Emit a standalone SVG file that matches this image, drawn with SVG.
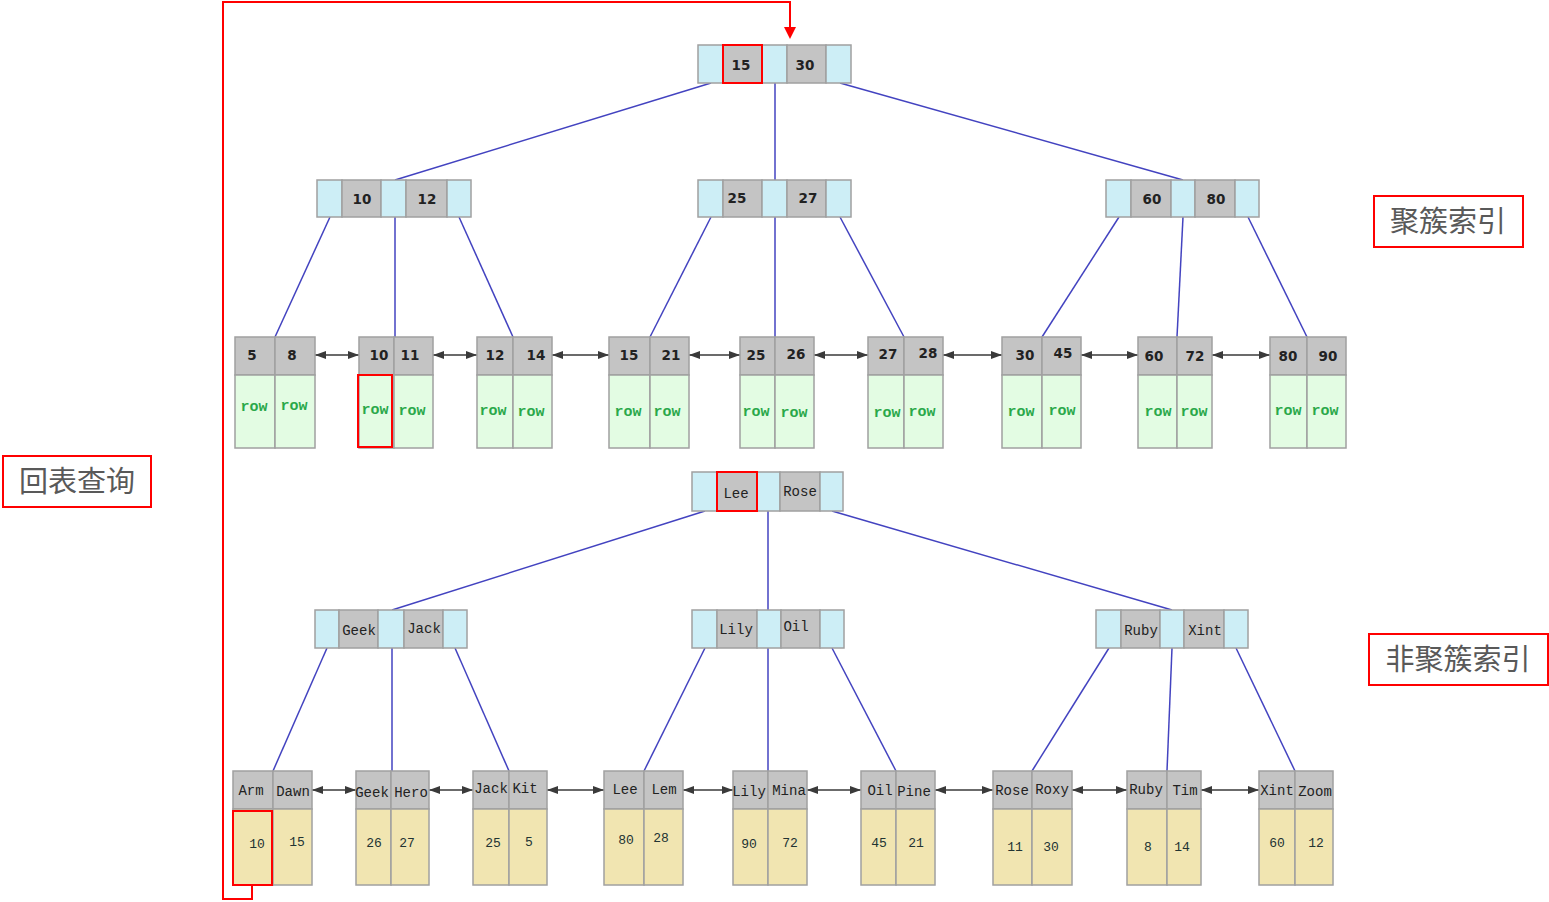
<svg xmlns="http://www.w3.org/2000/svg" width="1549" height="902" viewBox="0 0 1549 902">
<defs>
<marker id="ah" markerUnits="userSpaceOnUse" markerWidth="12" markerHeight="10" refX="11" refY="5" orient="auto-start-reverse"><path d="M0,1 L11,5 L0,9 z" fill="#3a3a3a"/></marker>
<style>
.b{fill:#cdeef6;stroke:#a0a0a0;stroke-width:1.5}
.g{fill:#c4c4c4;stroke:#a0a0a0;stroke-width:1.5}
.gr{fill:#e3fce3;stroke:#a0a0a0;stroke-width:1.5}
.tn{fill:#f1e5b1;stroke:#a0a0a0;stroke-width:1.5}
.k{font-family:"DejaVu Sans",Verdana,sans-serif;font-weight:bold;font-size:13.5px;fill:#222;text-anchor:middle}
.r{font-family:"Liberation Mono","Courier New",monospace;font-weight:bold;font-size:15px;fill:#2aa84a;text-anchor:middle}
.n{font-family:"Liberation Mono","Courier New",monospace;font-size:14px;fill:#222;text-anchor:middle}
.v{font-family:"Liberation Mono","Courier New",monospace;font-size:13px;fill:#233;text-anchor:middle}
.c{stroke:#4343c0;stroke-width:1.5;fill:none}
.a{stroke:#3a3a3a;stroke-width:1.5;marker-start:url(#ah);marker-end:url(#ah)}
.red{fill:none;stroke:#ff0000;stroke-width:2}
.lb{fill:#fff;stroke:#ff0000;stroke-width:2}
.lt{font-family:"Noto Sans CJK SC","Noto Sans",sans-serif;font-size:29px;fill:#595959;text-anchor:middle}
</style>
</defs>
<rect width="1549" height="902" fill="#fff"/>

<g id="connectors">
<line class="c" x1="711" y1="83" x2="395" y2="180"/>
<line class="c" x1="775" y1="83" x2="775" y2="180"/>
<line class="c" x1="840" y1="83" x2="1183" y2="180"/>
<line class="c" x1="330" y1="217" x2="275" y2="337"/>
<line class="c" x1="395" y1="217" x2="395" y2="337"/>
<line class="c" x1="459" y1="217" x2="513" y2="337"/>
<line class="c" x1="711" y1="217" x2="650" y2="337"/>
<line class="c" x1="775" y1="217" x2="775" y2="337"/>
<line class="c" x1="840" y1="217" x2="904" y2="337"/>
<line class="c" x1="1119" y1="217" x2="1042" y2="337"/>
<line class="c" x1="1183" y1="217" x2="1177" y2="337"/>
<line class="c" x1="1248" y1="217" x2="1307" y2="337"/>
<line class="c" x1="705" y1="511" x2="392" y2="610"/>
<line class="c" x1="768" y1="511" x2="768" y2="610"/>
<line class="c" x1="832" y1="511" x2="1172" y2="610"/>
<line class="c" x1="327" y1="648" x2="273" y2="771"/>
<line class="c" x1="392" y1="648" x2="392" y2="771"/>
<line class="c" x1="455" y1="648" x2="509" y2="771"/>
<line class="c" x1="705" y1="648" x2="644" y2="771"/>
<line class="c" x1="768" y1="648" x2="768" y2="771"/>
<line class="c" x1="832" y1="648" x2="896" y2="771"/>
<line class="c" x1="1109" y1="648" x2="1032" y2="771"/>
<line class="c" x1="1172" y1="648" x2="1167" y2="771"/>
<line class="c" x1="1236" y1="648" x2="1295" y2="771"/>
<line class="a" x1="315" y1="355" x2="359" y2="355"/>
<line class="a" x1="433" y1="355" x2="477" y2="355"/>
<line class="a" x1="552" y1="355" x2="609" y2="355"/>
<line class="a" x1="689" y1="355" x2="740" y2="355"/>
<line class="a" x1="814" y1="355" x2="868" y2="355"/>
<line class="a" x1="943" y1="355" x2="1002" y2="355"/>
<line class="a" x1="1081" y1="355" x2="1138" y2="355"/>
<line class="a" x1="1212" y1="355" x2="1270" y2="355"/>
<line class="a" x1="312" y1="790" x2="356" y2="790"/>
<line class="a" x1="429" y1="790" x2="473" y2="790"/>
<line class="a" x1="547" y1="790" x2="604" y2="790"/>
<line class="a" x1="683" y1="790" x2="733" y2="790"/>
<line class="a" x1="807" y1="790" x2="861" y2="790"/>
<line class="a" x1="935" y1="790" x2="993" y2="790"/>
<line class="a" x1="1072" y1="790" x2="1127" y2="790"/>
<line class="a" x1="1201" y1="790" x2="1259" y2="790"/>
<polyline class="red" points="252,885 252,899 223,899 223,2 790,2 790,29"/>
<path d="M784,27 L796,27 L790,39 z" fill="#ff0000"/>
</g>

<!-- clustered index -->
<g id="root-15-30">
<rect class="b" x="698" y="45" width="25" height="38"/>
<rect class="g" x="723" y="45" width="39" height="38"/>
<rect class="b" x="762" y="45" width="25" height="38"/>
<rect class="g" x="787" y="45" width="39" height="38"/>
<rect class="b" x="826" y="45" width="25" height="38"/>
<text class="k" x="741" y="70">15</text>
<text class="k" x="805" y="70">30</text>
<rect class="red" x="723" y="45" width="39" height="38"/>
</g>
<g id="node-10-12">
<rect class="b" x="317" y="180" width="25" height="37"/>
<rect class="g" x="342" y="180" width="39" height="37"/>
<rect class="b" x="381" y="180" width="25" height="37"/>
<rect class="g" x="406" y="180" width="41" height="37"/>
<rect class="b" x="447" y="180" width="24" height="37"/>
<text class="k" x="362" y="204">10</text>
<text class="k" x="427" y="204">12</text>
</g>
<g id="node-25-27">
<rect class="b" x="698" y="180" width="25" height="37"/>
<rect class="g" x="723" y="180" width="39" height="37"/>
<rect class="b" x="762" y="180" width="25" height="37"/>
<rect class="g" x="787" y="180" width="39" height="37"/>
<rect class="b" x="826" y="180" width="25" height="37"/>
<text class="k" x="737" y="203">25</text>
<text class="k" x="808" y="203">27</text>
</g>
<g id="node-60-80">
<rect class="b" x="1106" y="180" width="25" height="37"/>
<rect class="g" x="1131" y="180" width="40" height="37"/>
<rect class="b" x="1171" y="180" width="24" height="37"/>
<rect class="g" x="1195" y="180" width="40" height="37"/>
<rect class="b" x="1235" y="180" width="24" height="37"/>
<text class="k" x="1152" y="204">60</text>
<text class="k" x="1216" y="204">80</text>
</g>

<g id="leaf-5-8">
<rect class="g" x="235" y="337" width="40" height="38"/><rect class="g" x="275" y="337" width="40" height="38"/>
<rect class="gr" x="235" y="375" width="40" height="73"/><rect class="gr" x="275" y="375" width="40" height="73"/>
<text class="k" x="252" y="360">5</text><text class="k" x="292" y="360">8</text>
<text class="r" x="254" y="411">row</text><text class="r" x="294" y="410">row</text>
</g>
<g id="leaf-10-11">
<rect class="g" x="359" y="337" width="35" height="38"/><rect class="g" x="394" y="337" width="39" height="38"/>
<rect class="gr" x="359" y="375" width="35" height="73"/><rect class="gr" x="394" y="375" width="39" height="73"/>
<text class="k" x="379" y="360">10</text><text class="k" x="410" y="360">11</text>
<text class="r" x="375" y="414">row</text><text class="r" x="412" y="415">row</text>
<rect class="red" x="358" y="375" width="34" height="72"/>
</g>
<g id="leaf-12-14">
<rect class="g" x="477" y="337" width="36" height="38"/><rect class="g" x="513" y="337" width="39" height="38"/>
<rect class="gr" x="477" y="375" width="36" height="73"/><rect class="gr" x="513" y="375" width="39" height="73"/>
<text class="k" x="495" y="360">12</text><text class="k" x="536" y="360">14</text>
<text class="r" x="493" y="415">row</text><text class="r" x="531" y="416">row</text>
</g>
<g id="leaf-15-21">
<rect class="g" x="609" y="337" width="41" height="38"/><rect class="g" x="650" y="337" width="39" height="38"/>
<rect class="gr" x="609" y="375" width="41" height="73"/><rect class="gr" x="650" y="375" width="39" height="73"/>
<text class="k" x="629" y="360">15</text><text class="k" x="671" y="360">21</text>
<text class="r" x="628" y="416">row</text><text class="r" x="667" y="416">row</text>
</g>
<g id="leaf-25-26">
<rect class="g" x="740" y="337" width="35" height="38"/><rect class="g" x="775" y="337" width="39" height="38"/>
<rect class="gr" x="740" y="375" width="35" height="73"/><rect class="gr" x="775" y="375" width="39" height="73"/>
<text class="k" x="756" y="360">25</text><text class="k" x="796" y="359">26</text>
<text class="r" x="756" y="416">row</text><text class="r" x="794" y="417">row</text>
</g>
<g id="leaf-27-28">
<rect class="g" x="868" y="337" width="36" height="38"/><rect class="g" x="904" y="337" width="39" height="38"/>
<rect class="gr" x="868" y="375" width="36" height="73"/><rect class="gr" x="904" y="375" width="39" height="73"/>
<text class="k" x="888" y="359">27</text><text class="k" x="928" y="358">28</text>
<text class="r" x="887" y="417">row</text><text class="r" x="922" y="416">row</text>
</g>
<g id="leaf-30-45">
<rect class="g" x="1002" y="337" width="40" height="38"/><rect class="g" x="1042" y="337" width="39" height="38"/>
<rect class="gr" x="1002" y="375" width="40" height="73"/><rect class="gr" x="1042" y="375" width="39" height="73"/>
<text class="k" x="1025" y="360">30</text><text class="k" x="1063" y="358">45</text>
<text class="r" x="1021" y="416">row</text><text class="r" x="1062" y="415">row</text>
</g>
<g id="leaf-60-72">
<rect class="g" x="1138" y="337" width="39" height="38"/><rect class="g" x="1177" y="337" width="35" height="38"/>
<rect class="gr" x="1138" y="375" width="39" height="73"/><rect class="gr" x="1177" y="375" width="35" height="73"/>
<text class="k" x="1154" y="361">60</text><text class="k" x="1195" y="361">72</text>
<text class="r" x="1158" y="416">row</text><text class="r" x="1194" y="416">row</text>
</g>
<g id="leaf-80-90">
<rect class="g" x="1270" y="337" width="37" height="38"/><rect class="g" x="1307" y="337" width="39" height="38"/>
<rect class="gr" x="1270" y="375" width="37" height="73"/><rect class="gr" x="1307" y="375" width="39" height="73"/>
<text class="k" x="1288" y="361">80</text><text class="k" x="1328" y="361">90</text>
<text class="r" x="1288" y="415">row</text><text class="r" x="1325" y="415">row</text>
</g>

<!-- secondary index -->
<g id="root-Lee-Rose">
<rect class="b" x="692" y="472" width="25" height="39"/>
<rect class="g" x="717" y="472" width="40" height="39"/>
<rect class="b" x="757" y="472" width="23" height="39"/>
<rect class="g" x="780" y="472" width="40" height="39"/>
<rect class="b" x="820" y="472" width="23" height="39"/>
<text class="n" x="736" y="498">Lee</text>
<text class="n" x="800" y="496">Rose</text>
<rect class="red" x="717" y="472" width="40" height="39"/>
</g>
<g id="node-Geek-Jack">
<rect class="b" x="315" y="610" width="24" height="38"/>
<rect class="g" x="339" y="610" width="39" height="38"/>
<rect class="b" x="378" y="610" width="26" height="38"/>
<rect class="g" x="404" y="610" width="39" height="38"/>
<rect class="b" x="443" y="610" width="24" height="38"/>
<text class="n" x="359" y="635">Geek</text>
<text class="n" x="424" y="633">Jack</text>
</g>
<g id="node-Lily-Oil">
<rect class="b" x="692" y="610" width="25" height="38"/>
<rect class="g" x="717" y="610" width="40" height="38"/>
<rect class="b" x="757" y="610" width="24" height="38"/>
<rect class="g" x="781" y="610" width="39" height="38"/>
<rect class="b" x="820" y="610" width="24" height="38"/>
<text class="n" x="736" y="634">Lily</text>
<text class="n" x="796" y="631">Oil</text>
</g>
<g id="node-Ruby-Xint">
<rect class="b" x="1096" y="610" width="25" height="38"/>
<rect class="g" x="1121" y="610" width="39" height="38"/>
<rect class="b" x="1160" y="610" width="24" height="38"/>
<rect class="g" x="1184" y="610" width="40" height="38"/>
<rect class="b" x="1224" y="610" width="24" height="38"/>
<text class="n" x="1141" y="635">Ruby</text>
<text class="n" x="1205" y="635">Xint</text>
</g>

<g id="leaf-Arm-Dawn">
<rect class="g" x="233" y="771" width="40" height="38"/><rect class="g" x="273" y="771" width="39" height="38"/>
<rect class="tn" x="233" y="809" width="40" height="76"/><rect class="tn" x="273" y="809" width="39" height="76"/>
<text class="n" x="251" y="795">Arm</text><text class="n" x="293" y="796">Dawn</text>
<text class="v" x="257" y="848">10</text><text class="v" x="297" y="846">15</text>
<rect class="red" x="233" y="811" width="39" height="74"/>
</g>
<g id="leaf-Geek-Hero">
<rect class="g" x="356" y="771" width="35" height="38"/><rect class="g" x="391" y="771" width="38" height="38"/>
<rect class="tn" x="356" y="809" width="35" height="76"/><rect class="tn" x="391" y="809" width="38" height="76"/>
<text class="n" x="372" y="797">Geek</text><text class="n" x="411" y="797">Hero</text>
<text class="v" x="374" y="847">26</text><text class="v" x="407" y="847">27</text>
</g>
<g id="leaf-Jack-Kit">
<rect class="g" x="473" y="771" width="36" height="38"/><rect class="g" x="509" y="771" width="38" height="38"/>
<rect class="tn" x="473" y="809" width="36" height="76"/><rect class="tn" x="509" y="809" width="38" height="76"/>
<text class="n" x="491" y="793">Jack</text><text class="n" x="525" y="793">Kit</text>
<text class="v" x="493" y="847">25</text><text class="v" x="529" y="846">5</text>
</g>
<g id="leaf-Lee-Lem">
<rect class="g" x="604" y="771" width="40" height="38"/><rect class="g" x="644" y="771" width="39" height="38"/>
<rect class="tn" x="604" y="809" width="40" height="76"/><rect class="tn" x="644" y="809" width="39" height="76"/>
<text class="n" x="625" y="794">Lee</text><text class="n" x="664" y="794">Lem</text>
<text class="v" x="626" y="844">80</text><text class="v" x="661" y="842">28</text>
</g>
<g id="leaf-Lily-Mina">
<rect class="g" x="733" y="771" width="35" height="38"/><rect class="g" x="768" y="771" width="39" height="38"/>
<rect class="tn" x="733" y="809" width="35" height="76"/><rect class="tn" x="768" y="809" width="39" height="76"/>
<text class="n" x="749" y="796">Lily</text><text class="n" x="789" y="795">Mina</text>
<text class="v" x="749" y="848">90</text><text class="v" x="790" y="847">72</text>
</g>
<g id="leaf-Oil-Pine">
<rect class="g" x="861" y="771" width="35" height="38"/><rect class="g" x="896" y="771" width="39" height="38"/>
<rect class="tn" x="861" y="809" width="35" height="76"/><rect class="tn" x="896" y="809" width="39" height="76"/>
<text class="n" x="880" y="795">Oil</text><text class="n" x="914" y="796">Pine</text>
<text class="v" x="879" y="847">45</text><text class="v" x="916" y="847">21</text>
</g>
<g id="leaf-Rose-Roxy">
<rect class="g" x="993" y="771" width="39" height="38"/><rect class="g" x="1032" y="771" width="40" height="38"/>
<rect class="tn" x="993" y="809" width="39" height="76"/><rect class="tn" x="1032" y="809" width="40" height="76"/>
<text class="n" x="1012" y="795">Rose</text><text class="n" x="1052" y="794">Roxy</text>
<text class="v" x="1015" y="851">11</text><text class="v" x="1051" y="851">30</text>
</g>
<g id="leaf-Ruby-Tim">
<rect class="g" x="1127" y="771" width="40" height="38"/><rect class="g" x="1167" y="771" width="34" height="38"/>
<rect class="tn" x="1127" y="809" width="40" height="76"/><rect class="tn" x="1167" y="809" width="34" height="76"/>
<text class="n" x="1146" y="794">Ruby</text><text class="n" x="1185" y="795">Tim</text>
<text class="v" x="1148" y="851">8</text><text class="v" x="1182" y="851">14</text>
</g>
<g id="leaf-Xint-Zoom">
<rect class="g" x="1259" y="771" width="36" height="38"/><rect class="g" x="1295" y="771" width="38" height="38"/>
<rect class="tn" x="1259" y="809" width="36" height="76"/><rect class="tn" x="1295" y="809" width="38" height="76"/>
<text class="n" x="1277" y="795">Xint</text><text class="n" x="1315" y="796">Zoom</text>
<text class="v" x="1277" y="847">60</text><text class="v" x="1316" y="847">12</text>
</g>

<g id="label-clustered">
<rect class="lb" x="1374" y="196" width="149" height="51"/>
<text class="lt" x="1448" y="232">聚簇索引</text>
</g>
<g id="label-secondary">
<rect class="lb" x="1369" y="634" width="179" height="51"/>
<text class="lt" x="1458" y="670">非聚簇索引</text>
</g>
<g id="label-lookup">
<rect class="lb" x="3" y="456" width="148" height="51"/>
<text class="lt" x="77" y="492">回表查询</text>
</g>
</svg>
